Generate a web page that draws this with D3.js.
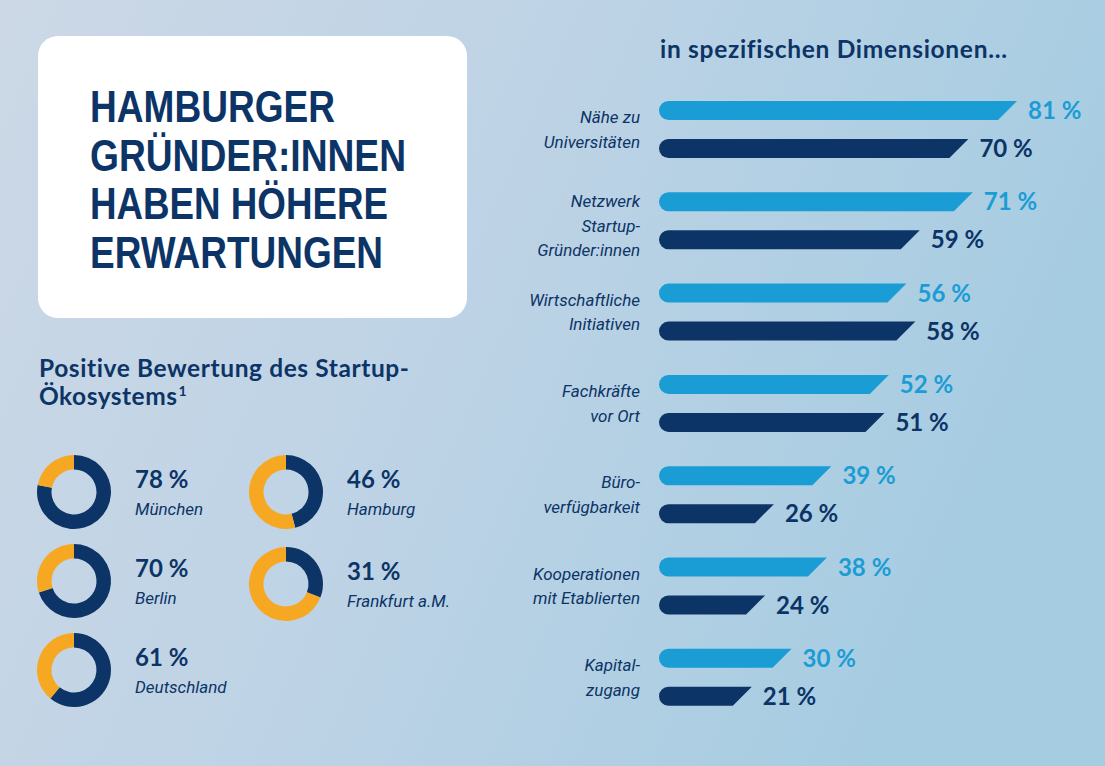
<!DOCTYPE html>
<html><head><meta charset="utf-8">
<script src="https://cdn.jsdelivr.net/npm/d3@7"></script>
<style>
html,body{margin:0;padding:0;}
svg{display:block;}
text{font-variant-ligatures:none;}
</style></head>
<body>
<svg id="chart" width="1105" height="766"></svg>
<script>
// ---- data ----
const titleLines = ["HAMBURGER", "GRÜNDER:INNEN", "HABEN HÖHERE", "ERWARTUNGEN"];
const donutTitle = ["Positive Bewertung des Startup-", "Ökosystems"];
const cities = ["München", "Berlin", "Deutschland", "Hamburg", "Frankfurt a.M."];
const cityValues = [78, 70, 61, 46, 31];
const barHeader = "in spezifischen Dimensionen...";
const dimensions = [
  ["Nähe zu", "Universitäten"],
  ["Netzwerk", "Startup-", "Gründer:innen"],
  ["Wirtschaftliche", "Initiativen"],
  ["Fachkräfte", "vor Ort"],
  ["Büro-", "verfügbarkeit"],
  ["Kooperationen", "mit Etablierten"],
  ["Kapital-", "zugang"]
];
const seriesHamburg = [81, 71, 56, 52, 39, 38, 30];
const seriesOther = [70, 59, 58, 51, 26, 24, 21];

// ---- styles ----
const NAVY = "#0c3466", LIGHT = "#1a9dd5", ORANGE = "#f7a823";
const FONT = "Lato, 'Open Sans', sans-serif";
const IFONT = "Roboto, 'Open Sans', sans-serif";

const svg = d3.select("#chart");
const defs = svg.append("defs");
const grad = defs.append("linearGradient").attr("id", "bg").attr("x1", "0").attr("y1", "0").attr("x2", "1").attr("y2", "0.3");
grad.append("stop").attr("offset", "0").attr("stop-color", "#ccd8e6");
grad.append("stop").attr("offset", "0.5").attr("stop-color", "#bdd3e5");
grad.append("stop").attr("offset", "1").attr("stop-color", "#a6cce2");
svg.append("rect").attr("width", 1105).attr("height", 766).attr("fill", "url(#bg)");

// ---- title box ----
svg.append("rect").attr("x", 38).attr("y", 36).attr("width", 429).attr("height", 282)
  .attr("rx", 20).attr("fill", "#ffffff");
const titleWidths = [245, 316, 298, 293];
svg.append("g").selectAll("text").data(titleLines).join("text")
  .attr("x", 90).attr("y", (d, i) => 122 + i * 48.5)
  .attr("font-family", "'Liberation Sans', Arial, sans-serif")
  .attr("font-weight", 700).attr("font-size", 45).attr("fill", NAVY)
  .attr("textLength", (d, i) => titleWidths[i]).attr("lengthAdjust", "spacingAndGlyphs")
  .text(d => d);

// ---- donut section ----
const dt = svg.append("text").attr("font-family", FONT).attr("font-weight", 700)
  .attr("font-size", 24.5).attr("fill", NAVY);
dt.append("tspan").attr("x", 39).attr("y", 377).attr("textLength", 370).attr("lengthAdjust", "spacing").text(donutTitle[0]);
dt.append("tspan").attr("x", 39).attr("y", 405).attr("textLength", 138).attr("lengthAdjust", "spacing").text(donutTitle[1]);
dt.append("tspan").attr("dx", 1).attr("dy", -9).attr("font-size", 14).text("1");

const donutPos = [[74, 492], [74, 581], [74, 670], [286, 492], [286, 584]];
const pie = d3.pie().sort(null).value(d => d);
const arc = d3.arc().innerRadius(22.5).outerRadius(37);
cities.forEach((c, i) => {
  const [cx, cy] = donutPos[i];
  const g = svg.append("g").attr("transform", `translate(${cx},${cy})`);
  g.selectAll("path").data(pie([cityValues[i], 100 - cityValues[i]])).join("path")
    .attr("d", arc).attr("fill", (d, j) => j === 0 ? NAVY : ORANGE);
  g.append("text").attr("x", 61).attr("y", -4)
    .attr("font-family", FONT).attr("font-weight", 700).attr("font-size", 24).attr("fill", NAVY)
    .text(cityValues[i] + " %");
  g.append("text").attr("x", 61).attr("y", 23)
    .attr("font-family", IFONT).attr("font-style", "italic").attr("font-size", 17).attr("fill", NAVY)
    .text(c);
});

// ---- bar section ----
svg.append("text").attr("x", 660).attr("y", 58)
  .attr("font-family", FONT).attr("font-weight", 700).attr("font-size", 24.5).attr("fill", NAVY)
  .attr("textLength", 347).attr("lengthAdjust", "spacing")
  .text(barHeader);

const x = d3.scaleLinear().domain([0, 100]).range([659, 1101]);
const y = d3.scaleBand().domain(d3.range(dimensions.length)).range([110.5, 110.5 + 91.3 * 7]).padding(0);
const BH = 19, GAP = 38;

function barPath(v, cy) {
  const x0 = x(0), x1 = x(v), r = BH / 2, top = cy - BH / 2, bot = cy + BH / 2;
  return `M${x0 + r},${top} L${x1},${top} L${x1 - BH},${bot} L${x0 + r},${bot} A${r},${r} 0 0 1 ${x0 + r},${top} Z`;
}

const rows = svg.append("g").selectAll("g").data(dimensions).join("g");
rows.each(function (lines, i) {
  const g = d3.select(this);
  const c1 = y(i), c2 = y(i) + GAP;
  [[seriesHamburg[i], c1, LIGHT], [seriesOther[i], c2, NAVY]].forEach(([v, cy, col]) => {
    g.append("path").attr("d", barPath(v, cy)).attr("fill", col);
    g.append("text").attr("x", x(v) + 11).attr("y", cy + 8.5)
      .attr("font-family", FONT).attr("font-weight", 700).attr("font-size", 24).attr("fill", col)
      .text(v + " %");
  });
  const mid = (c1 + c2) / 2 + (lines.length > 2 ? 5 : 0);
  const lh = 24.5;
  g.append("g").selectAll("text").data(lines).join("text")
    .attr("x", 640).attr("text-anchor", "end")
    .attr("y", (d, k) => mid + (k - (lines.length - 1) / 2) * lh + 6)
    .attr("font-family", IFONT).attr("font-style", "italic").attr("font-size", 17).attr("fill", NAVY)
    .text(d => d);
});
</script>
</body></html>
